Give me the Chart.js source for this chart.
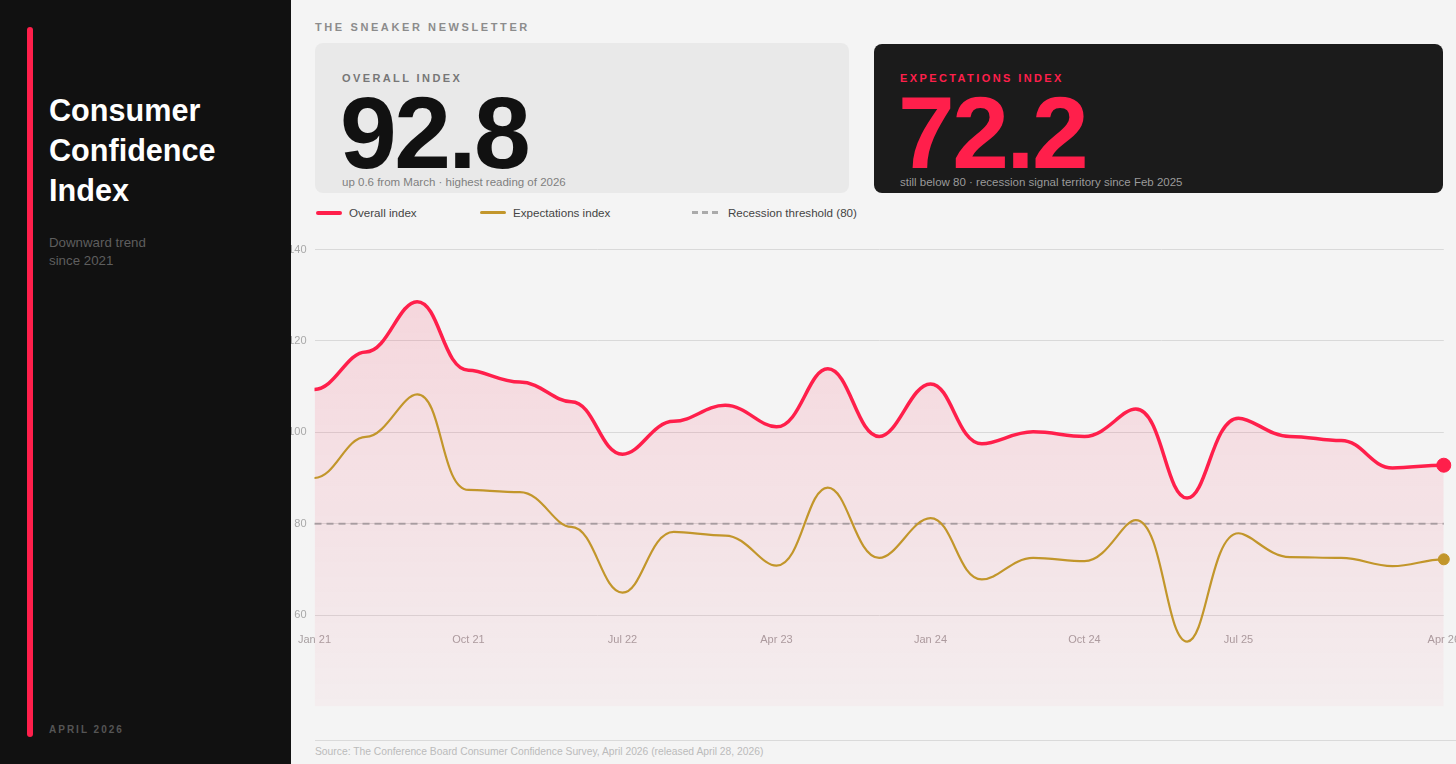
<!DOCTYPE html>
<html>
<head>
<meta charset="utf-8">
<title>Consumer Confidence Index</title>
<script src="https://cdn.jsdelivr.net/npm/chart.js@4.4.1/dist/chart.umd.min.js"></script>
<style>
  html, body { margin: 0; padding: 0; }
  body {
    width: 1456px; height: 764px; overflow: hidden; position: relative;
    background: #f4f4f4; font-family: "Liberation Sans", Arial, sans-serif;
  }
  .side { position: absolute; left: 0; top: 0; width: 291px; height: 764px; background: #111; z-index: 3; }
  .bar { position: absolute; left: 27px; top: 27px; width: 6px; height: 710px; background: #ff1f4b; border-radius: 3px; }
  .title { position: absolute; left: 49px; top: 90px; color: #fff; font-size: 30.6px; font-weight: bold; line-height: 40px; }
  .sub { position: absolute; left: 49px; top: 234px; color: #5e5e5e; font-size: 13.3px; line-height: 18px; }
  .date { position: absolute; left: 49px; top: 724px; color: #555; font-size: 10px; font-weight: bold; letter-spacing: 2px; line-height: 12px; }

  .kicker { position: absolute; left: 315px; top: 21px; color: #8c8c8c; font-size: 11px; font-weight: bold; letter-spacing: 2.6px; line-height: 13px; }
  .card { position: absolute; border-radius: 8px; }
  .card .lbl { position: absolute; font-size: 11px; font-weight: bold; letter-spacing: 2.4px; line-height: 13px; }
  .card .num { position: absolute; font-size: 102px; font-weight: bold; letter-spacing: -2.6px; line-height: 100px; }
  .card .cap { position: absolute; font-size: 11.5px; line-height: 14px; white-space: nowrap; }
  #c1 { left: 315px; top: 43px; width: 534px; height: 150px; background: #e9e9e9; }
  #c1 .lbl { left: 27px; top: 29px; color: #777; }
  #c1 .num { left: 25px; top: 40px; color: #111; }
  #c1 .cap { left: 27px; top: 132px; color: #7f7f7f; }
  #c2 { left: 874px; top: 44px; width: 569px; height: 149px; background: #1b1b1b; }
  #c2 .lbl { left: 26px; top: 28px; color: #ff1f4b; }
  #c2 .num { left: 24px; top: 39px; color: #ff1f4b; }
  #c2 .cap { left: 26px; top: 131px; color: #9a9a9a; }

  .leg { position: absolute; top: 206px; height: 14px; font-size: 11.6px; line-height: 14px; color: #444; white-space: nowrap; }
  .leg .sw { position: absolute; left: 0; top: 5px; width: 26px; height: 4px; border-radius: 2px; }
  .leg .dash { position: absolute; top: 5px; width: 6px; height: 3px; background: #aaa; }
  .leg span.t { position: absolute; left: 33px; top: 0; }

  #wrap { position: absolute; left: 280px; top: 235px; width: 1198px; height: 486px; z-index: 1; }
  .rule { position: absolute; left: 315px; right: 0; top: 740px; height: 1px; background: #dadada; }
  .src { position: absolute; left: 315px; top: 746px; font-size: 10.3px; line-height: 12px; color: #bbb; white-space: nowrap; }
</style>
</head>
<body>

<div class="side">
  <div class="bar"></div>
  <div class="title">Consumer<br>Confidence<br>Index</div>
  <div class="sub">Downward trend<br>since 2021</div>
  <div class="date">APRIL 2026</div>
</div>

<div class="kicker">THE SNEAKER NEWSLETTER</div>

<div class="card" id="c1">
  <div class="lbl">OVERALL INDEX</div>
  <div class="num">92.8</div>
  <div class="cap">up 0.6 from March · highest reading of 2026</div>
</div>
<div class="card" id="c2">
  <div class="lbl">EXPECTATIONS INDEX</div>
  <div class="num">72.2</div>
  <div class="cap">still below 80 · recession signal territory since Feb 2025</div>
</div>

<!-- legend -->
<div class="leg" style="left:316px"><div class="sw" style="background:#ff1f4b"></div><span class="t">Overall index</span></div>
<div class="leg" style="left:480px"><div class="sw" style="background:#c2962b;height:3px"></div><span class="t">Expectations index</span></div>
<div class="leg" style="left:692px">
  <div class="dash" style="left:0"></div><div class="dash" style="left:10px"></div><div class="dash" style="left:20px"></div>
  <span class="t" style="left:36px">Recession threshold (80)</span>
</div>

<div id="wrap"><canvas id="myChart"></canvas></div>

<div class="rule"></div>
<div class="src">Source: The Conference Board Consumer Confidence Survey, April 2026 (released April 28, 2026)</div>

<script>
// data (quarterly, then monthly for 2026)
var labels = ['Jan 21', 'Apr 21', 'Jul 21', 'Oct 21', 'Jan 22', 'Apr 22', 'Jul 22', 'Oct 22',
  'Jan 23', 'Apr 23', 'Jul 23', 'Oct 23', 'Jan 24', 'Apr 24', 'Jul 24', 'Oct 24',
  'Jan 25', 'Apr 25', 'Jul 25', 'Oct 25', 'Jan 26', 'Mar 26', 'Apr 26'];
var overall = [109.4, 117.6, 128.6, 113.6, 111.0, 106.7, 95.2, 102.4, 105.9, 101.2, 113.9, 99.1,
  110.6, 97.5, 100.1, 99.1, 105.1, 85.6, 103.1, 99.1, 98.2, 92.2, 92.8];
var expectations = [90.0, 99.0, 108.3, 87.4, 86.9, 79.3, 64.9, 78.2, 77.4, 70.8, 87.9, 72.5,
  81.2, 67.8, 72.5, 71.8, 80.8, 54.2, 77.9, 72.7, 72.5, 70.7, 72.2];
var threshold = 80;
var yTicks = [60, 80, 100, 120, 140];

var RED = '#ff1f4b';
var GOLD = '#c2962b';
var last = labels.length - 1;

Chart.defaults.font.family = '"Liberation Sans", Arial, sans-serif';
Chart.defaults.font.size = 11;
Chart.defaults.color = '#a8a8a8';

function redFill(context) {
  var chart = context.chart;
  var area = chart.chartArea;
  if (!area) return 'rgba(255,31,75,0.1)';
  var g = chart.ctx.createLinearGradient(0, area.top, 0, area.bottom);
  g.addColorStop(0, 'rgba(255,31,75,0.15)');
  g.addColorStop(1, 'rgba(255,31,75,0.03)');
  return g;
}

function lastOnly(r) {
  return function (ctx) { return ctx.dataIndex === last ? r : 0; };
}

// the original curve levels off at every reading: make the bezier handles horizontal
var flatKnots = {
  id: 'flatKnots',
  afterDatasetsUpdate: function (chart) {
    chart.getSortedVisibleDatasetMetas().forEach(function (meta) {
      if (meta.type !== 'line' || !meta.dataset) return;
      meta.dataset.updateControlPoints(chart.chartArea, 'x');
      meta.data.forEach(function (pt) {
        pt.cp1y = pt.y;
        pt.cp2y = pt.y;
      });
    });
  }
};

var ctx = document.getElementById('myChart').getContext('2d');
var myChart = new Chart(ctx, {
  type: 'line',
  data: {
    labels: labels,
    datasets: [
      {
        label: 'Overall index',
        data: overall,
        borderColor: RED,
        borderWidth: 3.5,
        backgroundColor: redFill,
        fill: 'start',
        tension: 0.4,
        pointRadius: lastOnly(7),
        pointBackgroundColor: RED,
        pointBorderColor: RED,
        pointBorderWidth: 1
      },
      {
        label: 'Expectations index',
        data: expectations,
        borderColor: GOLD,
        borderWidth: 2.2,
        fill: false,
        tension: 0.4,
        pointRadius: lastOnly(5.5),
        pointBackgroundColor: GOLD,
        pointBorderColor: GOLD,
        pointBorderWidth: 1
      },
      {
        label: 'Recession threshold (80)',
        data: labels.map(function () { return threshold; }),
        borderColor: 'rgba(150,140,144,0.75)',
        borderWidth: 2,
        borderDash: [7, 5],
        fill: false,
        pointRadius: 0,
        tension: 0
      }
    ]
  },
  plugins: [flatKnots],
  options: {
    responsive: true,
    maintainAspectRatio: false,
    animation: false,
    layout: { padding: 0 },
    plugins: {
      legend: { display: false },
      tooltip: { enabled: false },
      filler: { drawTime: 'beforeDatasetsDraw' }
    },
    scales: {
      x: {
        position: { y: 60 },
        grid: { display: false, drawTicks: false },
        border: { display: false },
        ticks: {
          autoSkip: false,
          maxRotation: 0,
          padding: 18,
          color: '#a8a0a2',
          callback: function (value, index) {
            if ((index % 3 === 0 && index < last - 1) || index === last) return labels[index];
            return null;
          }
        }
      },
      y: {
        min: 40,
        max: 140,
        afterFit: function (scale) { scale.width = 32; },
        afterBuildTicks: function (scale) {
          scale.ticks = yTicks.map(function (v) { return { value: v }; });
        },
        grid: { color: '#d9d9d9', lineWidth: 1, drawTicks: false },
        border: { display: false },
        ticks: { padding: 8, color: '#a8a8a8' }
      }
    }
  }
});
</script>
</body>
</html>
